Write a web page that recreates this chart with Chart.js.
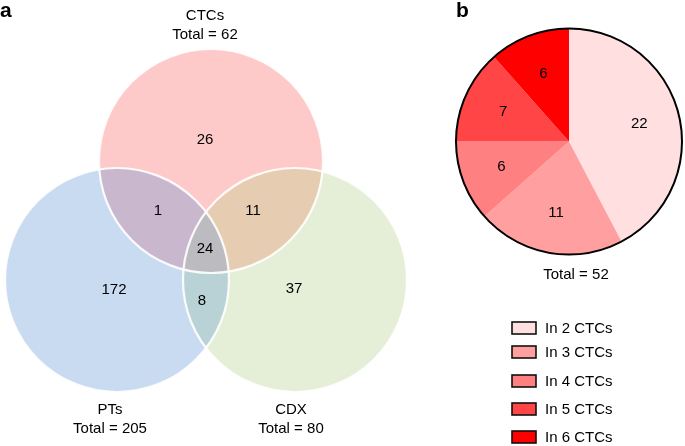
<!DOCTYPE html>
<html>
<head>
<meta charset="utf-8">
<script src="https://cdn.jsdelivr.net/npm/chart.js@4/dist/chart.umd.min.js"></script>
<style>
  html, body { margin: 0; padding: 0; background: #fff; }
  #wrap { position: relative; width: 685px; height: 446px; }
  #venn { position: absolute; left: 0; top: 0; }
  #pie { position: absolute; left: 440px; top: 0; }
</style>
</head>
<body>
<div id="wrap">
  <canvas id="venn" width="440" height="446"></canvas>
  <canvas id="pie" width="245" height="446"></canvas>
</div>
<script>
// ---- data ----
var setNames = ['CTCs', 'PTs', 'CDX'];
var setTotals = [62, 205, 80];
var regionNames = ['CTCs only', 'CTCs & PTs', 'CTCs & CDX', 'All three', 'PTs only', 'PTs & CDX', 'CDX only'];
var regionCounts = [26, 1, 11, 24, 172, 8, 37];

var pieLabels = ['In 2 CTCs', 'In 3 CTCs', 'In 4 CTCs', 'In 5 CTCs', 'In 6 CTCs'];
var pieValues = [22, 11, 6, 7, 6];
var pieTotal = 52;

// ---- layout / colours ----
var setColors = ['#fec9c9', '#c9dbf0', '#e5eed6'];
var pairColors = { '0-1': '#c9b8cd', '0-2': '#e6cdb2', '1-2': '#b9d2d6' };
var tripleColor = '#bcbbbf';
var circleCenters = [[211, 161], [117, 280], [295, 280]];
var circleRadius = 112;
var regionSpots = [[205, 140], [158, 211], [253, 211], [205, 249], [114, 290], [202, 301], [294, 289]];
var setLabelSpots = [[205, 16], [110, 410], [291, 410]];

var pieColors = ['#ffdfe0', '#ff9f9f', '#ff8080', '#ff4545', '#ff0000'];
var legendRows = [328, 352, 381, 409, 437];

var FONT = '"Liberation Sans", Arial, sans-serif';

function circlePath(ctx, el) {
  ctx.beginPath();
  ctx.arc(el.x, el.y, el.options.radius, 0, Math.PI * 2);
}

var vennPlugin = {
  id: 'venn',
  afterDatasetsDraw: function(chart) {
    var ctx = chart.ctx;
    var els = chart.data.datasets.map(function(ds, i) { return chart.getDatasetMeta(i).data[0]; });
    // pairwise overlaps
    [[0, 1], [0, 2], [1, 2]].forEach(function(p) {
      ctx.save();
      circlePath(ctx, els[p[0]]); ctx.clip();
      circlePath(ctx, els[p[1]]);
      ctx.fillStyle = pairColors[p[0] + '-' + p[1]];
      ctx.fill();
      ctx.restore();
    });
    // triple overlap
    ctx.save();
    circlePath(ctx, els[0]); ctx.clip();
    circlePath(ctx, els[1]); ctx.clip();
    circlePath(ctx, els[2]);
    ctx.fillStyle = tripleColor;
    ctx.fill();
    ctx.restore();
    // white outlines
    ctx.save();
    ctx.strokeStyle = 'rgba(255,255,255,0.9)';
    ctx.lineWidth = 2.2;
    els.forEach(function(el) { circlePath(ctx, el); ctx.stroke(); });
    ctx.restore();

    var xs = chart.scales.x, ys = chart.scales.y;
    ctx.save();
    ctx.fillStyle = '#000';
    ctx.textAlign = 'center';
    ctx.textBaseline = 'middle';
    ctx.font = '15px ' + FONT;
    regionCounts.forEach(function(v, i) {
      ctx.fillText(String(v), xs.getPixelForValue(regionSpots[i][0]), ys.getPixelForValue(regionSpots[i][1]));
    });
    setNames.forEach(function(n, i) {
      var x = xs.getPixelForValue(setLabelSpots[i][0]);
      var y = ys.getPixelForValue(setLabelSpots[i][1]);
      ctx.fillText(n, x, y);
      ctx.fillText('Total = ' + setTotals[i], x, y + 19);
    });
    ctx.font = 'bold 21px ' + FONT;
    ctx.textAlign = 'left';
    ctx.fillText('a', 0, 11);
    ctx.restore();
  }
};

new Chart(document.getElementById('venn'), {
  type: 'bubble',
  data: {
    labels: setNames,
    datasets: setNames.map(function(n, i) {
      return {
        label: n,
        data: [{ x: circleCenters[i][0], y: circleCenters[i][1], r: circleRadius }],
        backgroundColor: setColors[i],
        borderWidth: 0,
        hoverBorderWidth: 0
      };
    })
  },
  options: {
    responsive: false,
    animation: false,
    events: [],
    layout: { padding: 0, autoPadding: false },
    clip: false,
    scales: {
      x: { type: 'linear', min: 0, max: 440, display: false },
      y: { type: 'linear', min: 0, max: 446, reverse: true, display: false }
    },
    plugins: { legend: { display: false }, tooltip: { enabled: false } }
  },
  plugins: [vennPlugin]
});

var piePlugin = {
  id: 'pieExtras',
  afterDatasetsDraw: function(chart) {
    var ctx = chart.ctx;
    var meta = chart.getDatasetMeta(0);
    var first = meta.data[0];
    ctx.save();
    // outer ring
    ctx.beginPath();
    ctx.arc(first.x, first.y, first.outerRadius, 0, Math.PI * 2);
    ctx.strokeStyle = '#000';
    ctx.lineWidth = 2;
    ctx.stroke();
    // slice values
    ctx.fillStyle = '#000';
    ctx.font = '15px ' + FONT;
    ctx.textAlign = 'center';
    ctx.textBaseline = 'middle';
    meta.data.forEach(function(arc, i) {
      var mid = (arc.startAngle + arc.endAngle) / 2;
      var d = arc.outerRadius * 0.64;
      ctx.fillText(String(pieValues[i]), arc.x + Math.cos(mid) * d, arc.y + Math.sin(mid) * d);
    });
    ctx.fillText('Total = ' + pieTotal, first.x + 7, 275);
    // legend
    ctx.textAlign = 'left';
    pieLabels.forEach(function(l, i) {
      var y = legendRows[i];
      ctx.fillStyle = pieColors[i];
      ctx.fillRect(72, y - 6, 24, 12);
      ctx.strokeStyle = '#111';
      ctx.lineWidth = 1.6;
      ctx.strokeRect(72, y - 6, 24, 12);
      ctx.fillStyle = '#000';
      ctx.fillText(l, 105, y + 1);
    });
    ctx.font = 'bold 21px ' + FONT;
    ctx.fillText('b', 16, 11);
    ctx.restore();
  }
};

new Chart(document.getElementById('pie'), {
  type: 'pie',
  data: {
    labels: pieLabels,
    datasets: [{
      data: pieValues,
      backgroundColor: pieColors,
      borderWidth: 0
    }]
  },
  options: {
    responsive: false,
    animation: false,
    events: [],
    layout: { padding: { top: 28, bottom: 191, left: 16, right: 3 } },
    plugins: { legend: { display: false }, tooltip: { enabled: false } }
  },
  plugins: [piePlugin]
});
</script>
</body>
</html>
